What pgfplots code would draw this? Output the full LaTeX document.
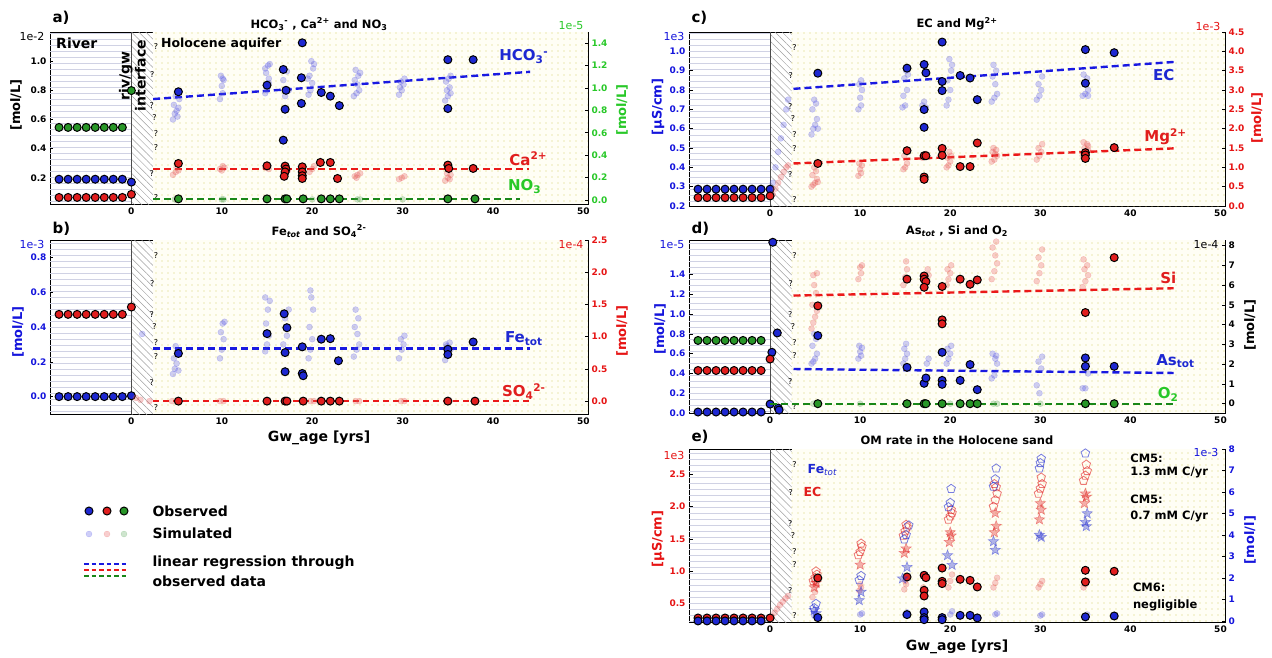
\documentclass[border=0pt]{standalone}
\usepackage{fontspec}
\setmainfont{DejaVu Sans}
\usepackage{pgfplots}
\pgfplotsset{compat=1.18}
\usetikzlibrary{patterns.meta}

\definecolor{obsB}{RGB}{30,40,210}
\definecolor{obsR}{RGB}{225,30,30}
\definecolor{obsG}{RGB}{40,150,40}
\definecolor{lnB}{RGB}{25,25,225}
\definecolor{lnR}{RGB}{235,25,25}
\definecolor{lnG}{RGB}{25,135,25}
\definecolor{tkB}{RGB}{20,20,220}
\definecolor{tkR}{RGB}{230,20,20}
\definecolor{tkG}{RGB}{40,200,40}
\definecolor{simB}{RGB}{80,80,230}
\definecolor{simR}{RGB}{230,80,80}
\definecolor{simG}{RGB}{80,160,80}
\definecolor{rivc}{RGB}{208,210,228}
\definecolor{hatc}{RGB}{160,160,160}
\definecolor{dotc}{RGB}{215,210,105}

\pgfdeclareplotmark{fstar}{%
  \pgfpathmoveto{\pgfqpointpolar{90}{\pgfplotmarksize}}%
  \pgfpathlineto{\pgfqpointpolar{126}{0.42\pgfplotmarksize}}%
  \pgfpathlineto{\pgfqpointpolar{162}{\pgfplotmarksize}}%
  \pgfpathlineto{\pgfqpointpolar{198}{0.42\pgfplotmarksize}}%
  \pgfpathlineto{\pgfqpointpolar{234}{\pgfplotmarksize}}%
  \pgfpathlineto{\pgfqpointpolar{270}{0.42\pgfplotmarksize}}%
  \pgfpathlineto{\pgfqpointpolar{306}{\pgfplotmarksize}}%
  \pgfpathlineto{\pgfqpointpolar{342}{0.42\pgfplotmarksize}}%
  \pgfpathlineto{\pgfqpointpolar{18}{\pgfplotmarksize}}%
  \pgfpathlineto{\pgfqpointpolar{54}{0.42\pgfplotmarksize}}%
  \pgfpathclose
  \pgfusepathqfillstroke
}

\pgfplotsset{
  base/.style={scale only axis, anchor=north west, xmin=-9, xmax=50.5,
    scaled ticks=false, tick align=inside, major tick length=3.5pt,
    tick style={black,line width=0.6pt},
    tick label style={font=\fontsize{9}{10}\selectfont\bfseries},
    /pgf/number format/assume math mode=true,
    y tick label style={/pgf/number format/fixed,/pgf/number format/fixed zerofill,/pgf/number format/precision=1},
    axis line style={line width=0.7pt}},
  L/.style={base, xtick={0,10,20,30,40,50}, ytick pos=left},
  R/.style={base, axis x line=none, axis y line*=right},
  sim/.style={only marks, mark=*, mark size=3pt, mark options={fill=#1, draw=#1, fill opacity=0.28, draw opacity=0.28}},
  obs/.style={only marks, mark=*, mark size=4pt, mark options={fill=#1, draw=black, line width=1pt}},
  reg/.style={#1, line width=2.4pt, dash pattern=on 7pt off 4pt},
  pent/.style={only marks, mark=pentagon, mark size=4.5pt, mark options={draw=#1, fill=#1!15, line width=0.8pt, draw opacity=0.6, fill opacity=0.3}},
  stars/.style={only marks, mark=fstar, mark size=5.5pt, mark options={draw=#1, fill=#1, line width=0.5pt, draw opacity=0.45, fill opacity=0.35}},
}

\newcommand{\bg}[2]{%
 \fill[pattern={Lines[angle=0,distance=6pt,line width=0.5pt]},pattern color=rivc] (axis cs:-9,#1) rectangle (axis cs:0,#2);
 \fill[pattern={Lines[angle=-45,distance=5pt,line width=0.5pt]},pattern color=hatc] (axis cs:0,#1) rectangle (axis cs:2.4,#2);
 \fill[yellow!4] (axis cs:2.4,#1) rectangle (axis cs:50.5,#2);
 \fill[pattern={Dots[distance=6pt,radius=0.65pt]},pattern color=dotc] (axis cs:2.4,#1) rectangle (axis cs:50.5,#2);
 \draw[black!70,line width=0.6pt] (axis cs:0,#1) -- (axis cs:0,#2);
}
\newcommand{\qm}{%
 \node[font=\fontsize{8}{9}\selectfont] at (rel axis cs:0.197,0.913) {?};
 \node[font=\fontsize{8}{9}\selectfont] at (rel axis cs:0.190,0.75) {?};
 \node[font=\fontsize{8}{9}\selectfont] at (rel axis cs:0.189,0.57) {?};
 \node[font=\fontsize{8}{9}\selectfont] at (rel axis cs:0.194,0.50) {?};
 \node[font=\fontsize{8}{9}\selectfont] at (rel axis cs:0.197,0.41) {?};
 \node[font=\fontsize{8}{9}\selectfont] at (rel axis cs:0.197,0.33) {?};
 \node[font=\fontsize{8}{9}\selectfont] at (rel axis cs:0.189,0.18) {?};
 \node[font=\fontsize{8}{9}\selectfont] at (rel axis cs:0.197,0.04) {?};
}
\newcommand{\lab}{\fontsize{15}{16}\selectfont\bfseries}

\begin{document}
\begin{tikzpicture}
\path[use as bounding box] (0,0) rectangle (1272pt,-657pt);

% ================= panel a =================
\begin{axis}[L, at={(50pt,-32pt)}, width=538pt, height=172pt, ymin=0.02, ymax=1.2,
  ytick={0.2,0.4,0.6,0.8,1.0}]
\bg{0.02}{1.2}
\addplot[sim=simB] coordinates {(4.6,0.60)(4.8,0.64)(5.0,0.66)(4.7,0.70)(5.2,0.68)(4.9,0.76)(5.3,0.74)(5.1,0.62)
 (9.8,0.74)(10.1,0.78)(10,0.83)(10.2,0.87)(9.9,0.9)(10.1,0.88)
 (14.8,0.78)(15,0.8)(15.2,0.85)(14.9,0.92)(15.1,0.97)(15.3,0.98)(14.8,0.95)(15.2,0.88)
 (16.8,0.87)(17.2,0.93)(17,0.76)(17.4,0.8)
 (19.6,0.77)(19.8,0.8)(20,0.85)(19.7,0.9)(20.1,0.95)(19.9,1.0)(20.2,0.98)(19.5,0.88)
 (24.6,0.76)(24.9,0.78)(25.2,0.8)(25,0.84)(24.7,0.87)(25.1,0.9)(24.8,0.94)(25.3,0.92)
 (29.6,0.77)(29.9,0.8)(30.1,0.84)(29.8,0.86)(30.2,0.88)(29.7,0.82)
 (34.7,0.73)(35,0.76)(35.3,0.78)(34.9,0.8)(35.2,0.82)(34.8,0.86)(35.1,0.88)(35.3,0.9)};
\addplot[sim=simR] coordinates {(4.6,0.22)(4.9,0.24)(5.2,0.25)(5,0.27)(9.8,0.26)(10.1,0.28)(10.3,0.27)(10,0.25)
 (14.8,0.27)(15.2,0.26)(15,0.29)(17,0.27)(17.3,0.25)(19.7,0.24)(20,0.26)(20.2,0.28)
 (24.7,0.21)(25,0.22)(25.3,0.23)(24.9,0.2)(29.6,0.19)(29.9,0.2)(30.2,0.21)
 (34.7,0.18)(35,0.2)(35.3,0.22)(34.9,0.23)(35.2,0.19)};
\addplot[reg=lnB] coordinates {(2.4,0.74)(44.1,0.927)};
\addplot[reg=lnR] coordinates {(2.4,0.26)(44,0.26)};
\addplot[obs=obsB] coordinates {(-8,0.19)(-7,0.19)(-6,0.19)(-5,0.19)(-4,0.19)(-3,0.19)(-2,0.19)(-1,0.19)(0,0.17)
 (5.2,0.79)(15,0.835)(16.8,0.943)(17.1,0.80)(17,0.67)(16.8,0.458)(18.9,1.126)(18.8,0.886)(18.8,0.71)
 (21,0.785)(22,0.76)(23,0.695)(35,1.01)(35,0.675)(37.8,1.01)};
\addplot[obs=obsR] coordinates {(-8,0.065)(-7,0.065)(-6,0.065)(-5,0.065)(-4,0.065)(-3,0.065)(-2,0.065)(-1,0.065)(0,0.086)
 (5.2,0.298)(15,0.282)(17,0.28)(17.1,0.26)(17,0.24)(16.9,0.21)(18.9,0.275)(18.9,0.24)(18.9,0.214)(18.9,0.195)
 (20.9,0.305)(22,0.305)(22.8,0.195)(35,0.287)(35.1,0.264)(37.8,0.264)};
\qm
\node[anchor=west,font=\fontsize{14}{15}\selectfont\bfseries] at (axis cs:-8.7,1.12) {River};
\node[anchor=west,font=\fontsize{12.5}{14}\selectfont\bfseries] at (axis cs:2.9,1.12) {Holocene aquifer};
\node[rotate=90,align=center,font=\fontsize{14}{16}\selectfont\bfseries] at (axis cs:0.1,0.9) {riv/gw\\interface};
\node[text=obsB,font=\lab] at (axis cs:43.4,1.03) {HCO\textsubscript{3}\textsuperscript{-}};
\node[text=obsR,font=\lab] at (axis cs:43.9,0.33) {Ca\textsuperscript{2+}};
\node[text=tkG,font=\lab] at (axis cs:43.5,0.14) {NO\textsubscript{3}};
\end{axis}
\begin{axis}[R, at={(50pt,-32pt)}, width=538pt, height=172pt, ymin=-0.036, ymax=1.5,
  ytick={0,0.2,0.4,0.6,0.8,1.0,1.2,1.4}, y tick label style={text=tkG}]
\addplot[sim=simG] coordinates {(4.8,0.005)(5.2,0.005)(10,0.005)(10.2,0.005)(15,0.005)(17,0.005)(20,0.005)(25,0.005)(25.3,0.005)(30,0.005)(35,0.005)};
\addplot[reg=lnG] coordinates {(2.4,0.01)(43,0.01)};
\addplot[obs=obsG] coordinates {(-8,0.648)(-7,0.648)(-6,0.648)(-5,0.648)(-4,0.648)(-3,0.648)(-2,0.648)(-1,0.648)(0,0.977)
 (5.2,0.01)(15,0.01)(17,0.01)(17.2,0.01)(19,0.01)(21,0.01)(22,0.01)(23,0.01)(35,0.01)(38,0.01)};
\end{axis}

% ================= panel b =================
\begin{axis}[L, at={(50pt,-240pt)}, width=538pt, height=174pt, ymin=-0.1, ymax=0.9,
  ytick={0,0.2,0.4,0.6,0.8}, y tick label style={text=tkB}]
\bg{-0.1}{0.9}
\addplot[sim=simB] coordinates {(1.2,0.36)(4.6,0.13)(4.8,0.16)(5,0.19)(4.7,0.22)(5.1,0.26)(4.9,0.29)(5.2,0.15)
 (9.8,0.22)(10,0.27)(10.2,0.33)(9.9,0.37)(10.1,0.42)(10.3,0.43)
 (14.8,0.26)(15,0.3)(15.2,0.35)(14.9,0.42)(15.1,0.5)(15.3,0.55)(14.8,0.57)
 (16.8,0.3)(17.2,0.35)(17,0.45)(17.4,0.5)
 (19.6,0.22)(19.8,0.27)(20,0.33)(19.7,0.4)(20.1,0.5)(19.9,0.57)(19.8,0.61)
 (24.6,0.23)(24.9,0.27)(25.2,0.3)(25,0.36)(24.7,0.4)(25.1,0.45)(24.8,0.5)
 (29.6,0.22)(29.9,0.27)(30.1,0.3)(29.8,0.33)(30.2,0.35)
 (34.7,0.21)(35,0.24)(35.3,0.27)(34.9,0.29)(35.2,0.31)(34.8,0.3)};
\addplot[reg=lnB] coordinates {(2.4,0.276)(44.1,0.276)};
\addplot[obs=obsB] coordinates {(-8,0)(-7,0)(-6,0)(-5,0)(-4,0)(-3,0)(-2,0)(-1,0)(0,0.005)
 (5.2,0.248)(15,0.362)(16.9,0.476)(17.2,0.396)(17,0.253)(17,0.143)(18.9,0.286)(18.9,0.133)(19,0.12)
 (21,0.33)(22,0.333)(22.9,0.206)(35,0.272)(35,0.242)(37.8,0.314)};
\qm
\node[text=obsB,font=\lab] at (axis cs:43.4,0.333) {Fe\textsubscript{tot}};
\node[text=obsR,font=\lab] at (axis cs:43.4,0.029) {SO\textsubscript{4}\textsuperscript{2-}};
\end{axis}
\begin{axis}[R, at={(50pt,-240pt)}, width=538pt, height=174pt, ymin=-0.2, ymax=2.5,
  ytick={0,0.5,1.0,1.5,2.0,2.5}, y tick label style={text=tkR}]
\addplot[sim=simR] coordinates {(0.5,0.05)(1,0.02)(2,0)(4.5,0)(5,0)(9.8,0)(10.2,0)(15,0)(17,0)(19.8,0)(20.2,0)(24.8,0)(25.2,0)(29.8,0)(30.2,0)(34.8,0)(35.2,0)};
\addplot[lnR, line width=1.5pt, dash pattern=on 6pt off 4pt] coordinates {(2.4,0)(44.1,0)};
\addplot[obs=obsR] coordinates {(-8,1.346)(-7,1.346)(-6,1.346)(-5,1.346)(-4,1.346)(-3,1.346)(-2,1.346)(-1,1.346)(0,1.46)
 (5.2,0)(15,0)(17,0)(17.2,0)(19,0)(21,0)(22,0)(23,0)(35,0)(38,0)};
\end{axis}

% ================= panel c =================
\begin{axis}[L, at={(689pt,-32pt)}, width=536pt, height=174pt, ymin=0.2, ymax=1.1,
  ytick={0.2,0.3,0.4,0.5,0.6,0.7,0.8,0.9,1.0}, y tick label style={text=tkB}]
\bg{0.2}{1.1}
\addplot[sim=simB] coordinates {(0.3,0.32)(0.6,0.4)(0.9,0.48)(1.2,0.55)(1.5,0.62)(1.8,0.7)(2.0,0.75)
 (4.6,0.57)(4.8,0.6)(5,0.62)(5.2,0.65)(4.7,0.7)(5.1,0.73)(4.9,0.75)(5.3,0.6)
 (9.8,0.7)(10.1,0.72)(10,0.76)(10.2,0.8)(9.9,0.83)(10.1,0.85)
 (14.7,0.71)(15,0.72)(15.2,0.8)(14.9,0.86)(15.1,0.9)(15.3,0.88)(14.8,0.77)
 (16.9,0.72)(17.1,0.74)(17.3,0.71)
 (19.6,0.72)(19.8,0.75)(20,0.8)(19.7,0.85)(20.1,0.9)(19.9,0.96)(20.2,0.93)
 (24.6,0.74)(24.9,0.76)(25.2,0.78)(25,0.83)(24.7,0.87)(25.1,0.9)(24.8,0.93)
 (29.6,0.75)(29.9,0.77)(30.1,0.8)(29.8,0.83)(30.2,0.87)
 (34.7,0.77)(35,0.78)(35.3,0.8)(34.9,0.83)(35.2,0.86)(34.8,0.88)(35.3,0.77)};
\addplot[reg=lnB] coordinates {(2.6,0.806)(44.8,0.945)};
\addplot[obs=obsB] coordinates {(-8,0.287)(-7,0.287)(-6,0.287)(-5,0.287)(-4,0.287)(-3,0.287)(-2,0.287)(-1,0.287)(0,0.287)
 (5.3,0.887)(15.2,0.913)(17.1,0.932)(17.3,0.889)(17.1,0.699)(17.1,0.607)(19.1,1.048)(19.1,0.844)(19.1,0.797)
 (21.1,0.875)(22.2,0.862)(23,0.75)(35,1.009)(35,0.835)(38.2,0.993)};
\qm
\node[text=obsB,font=\lab] at (axis cs:43.7,0.875) {EC};
\end{axis}
\begin{axis}[R, at={(689pt,-32pt)}, width=536pt, height=174pt, ymin=0, ymax=4.5,
  ytick={0,0.5,1.0,1.5,2.0,2.5,3.0,3.5,4.0,4.5}, y tick label style={text=tkR}]
\addplot[sim=simR] coordinates {(0.3,0.3)(0.6,0.45)(0.9,0.6)(1.2,0.75)(1.5,0.88)(1.8,1.0)(2.0,1.05)
 (4.6,0.5)(4.8,0.55)(5,0.6)(5.2,0.7)(4.7,0.8)(5.1,0.9)(4.9,1.0)(5.3,0.62)
 (9.8,0.78)(10.1,0.85)(10,0.95)(10.2,1.05)(9.9,1.1)
 (14.8,0.95)(15,1.0)(15.2,1.1)(14.9,1.3)(15.1,1.45)
 (16.9,1.25)(17.1,1.3)(17.3,1.35)
 (19.6,1.0)(19.8,1.05)(20,1.15)(19.7,1.25)(20.1,1.3)(19.9,1.4)
 (24.6,1.15)(24.9,1.2)(25.2,1.3)(25,1.35)(24.7,1.4)(25.1,1.45)(24.8,1.5)
 (29.6,1.2)(29.9,1.3)(30.1,1.4)(29.8,1.5)(30.2,1.6)
 (34.7,1.3)(35,1.35)(35.3,1.45)(34.9,1.5)(35.2,1.6)(34.8,1.65)(35.3,1.55)};
\addplot[reg=lnR] coordinates {(2.6,1.10)(44.8,1.49)};
\addplot[obs=obsR] coordinates {(-8,0.216)(-7,0.216)(-6,0.216)(-5,0.216)(-4,0.216)(-3,0.216)(-2,0.216)(-1,0.216)(0,0.26)
 (5.3,1.10)(15.2,1.43)(17.1,1.30)(17.3,1.30)(17.1,0.75)(17.1,0.69)(19.1,1.49)(19.1,1.31)
 (21.1,1.02)(22.2,1.02)(23,1.63)(35,1.38)(35,1.32)(35,1.23)(38.2,1.51)};
\node[text=obsR,font=\lab] at (axis cs:43.9,1.8) {Mg\textsuperscript{2+}};
\end{axis}

% ================= panel d =================
\begin{axis}[L, at={(689pt,-240pt)}, width=536pt, height=173pt, ymin=0, ymax=1.75,
  ytick={0,0.2,0.4,0.6,0.8,1.0,1.2,1.4}, y tick label style={text=tkB}]
\bg{0}{1.75}
\addplot[sim=simB] coordinates {(4.6,0.5)(4.8,0.52)(5,0.55)(5.2,0.6)(4.7,0.68)(5.1,0.75)(4.9,0.8)
 (9.8,0.55)(10.1,0.58)(10,0.62)(10.2,0.66)(9.9,0.68)
 (14.8,0.5)(15,0.55)(15.2,0.6)(14.9,0.65)(15.1,0.7)
 (17.4,0.5)(17.6,0.55)
 (19.6,0.5)(19.8,0.55)(20,0.6)(19.7,0.65)(20.1,0.68)
 (24.6,0.35)(24.9,0.38)(25.2,0.5)(25,0.55)(24.7,0.6)(25.1,0.58)
 (29.6,0.28)(29.9,0.2)(30.1,0.45)(29.8,0.52)(30.2,0.57)
 (34.7,0.25)(35,0.25)(35.3,0.4)(34.9,0.45)(35.2,0.5)};
\addplot[reg=lnB] coordinates {(2.6,0.445)(44.8,0.405)};
\addplot[obs=obsB] coordinates {(-8,0.01)(-7,0.01)(-6,0.01)(-5,0.01)(-4,0.01)(-3,0.01)(-2,0.01)(-1,0.01)
 (0,0.09)(0.2,0.614)(0.3,1.727)(0.8,0.81)(0.9,0.05)(1.0,0.03)
 (5.3,0.783)(15.2,0.462)(17.1,0.30)(17.3,0.354)(19.1,0.614)(19.1,0.33)(19.1,0.29)
 (21.1,0.33)(22.2,0.49)(23,0.236)(35,0.557)(35,0.472)(38.2,0.472)};
\qm
\node[text=obsR,font=\lab] at (axis cs:44.2,1.366) {Si};
\node[text=obsB,font=\lab] at (axis cs:45,0.523) {As\textsubscript{tot}};
\node[text=tkG,font=\lab] at (axis cs:44.2,0.186) {O\textsubscript{2}};
\end{axis}
\begin{axis}[R, at={(689pt,-240pt)}, width=536pt, height=173pt, ymin=-0.47, ymax=8.28,
  ytick={0,1,2,3,4,5,6,7,8}, y tick label style={text=black,/pgf/number format/precision=0}]
\addplot[sim=simR] coordinates {(4.6,3.8)(4.8,4.1)(5,4.4)(5.2,4.7)(4.7,5.0)(5.1,5.6)(4.9,6.0)(4.8,6.5)(5.2,6.6)
 (9.8,6.3)(10.1,6.6)(10,6.9)(10.2,7.0)
 (14.8,6.0)(15,6.4)(15.2,6.8)(15.1,7.2)
 (17.4,6.2)(17.6,6.5)(17.5,6.8)
 (19.6,6.0)(19.8,6.3)(20,6.6)(19.7,6.8)(20.1,7.0)
 (24.6,6.3)(24.9,6.7)(25.2,7.1)(25,7.5)(24.7,7.9)(25.1,8.2)
 (29.6,6.2)(29.9,6.6)(30.1,7.0)(29.8,7.4)(30.2,7.8)
 (34.7,5.9)(35,6.2)(35.3,6.5)(34.9,6.8)(35.2,7.0)(34.8,7.3)};
\addplot[sim=simG] coordinates {(4.8,0)(5.2,0)(10,0)(15,0)(17.5,0)(20,0)(24.8,0)(25.2,0)(30,0)(35,0)};
\addplot[reg=lnR] coordinates {(2.6,5.47)(44.8,5.84)};
\addplot[reg=lnG] coordinates {(0,0)(44.8,0)};
\addplot[obs=obsR] coordinates {(-8,1.68)(-7,1.68)(-6,1.68)(-5,1.68)(-4,1.68)(-3,1.68)(-2,1.68)(-1,1.68)(0,2.26)
 (5.3,4.95)(15.2,6.30)(17.1,6.46)(17.1,6.30)(17.3,6.18)(17.1,5.89)(19.1,5.93)(19.1,4.24)(19.1,4.04)
 (21.1,6.30)(22.2,6.04)(23,6.26)(35,4.61)(38.2,7.39)};
\addplot[obs=obsG] coordinates {(-8,3.2)(-7,3.2)(-6,3.2)(-5,3.2)(-4,3.2)(-3,3.2)(-2,3.2)(-1,3.2)
 (5.3,0)(15.2,0)(17.1,0)(17.3,0)(19.1,0)(21.1,0)(22.2,0)(23,0)(35,0)(38.2,0)};
\end{axis}

% ================= panel e =================
\begin{axis}[L, at={(689pt,-449pt)}, width=536pt, height=173pt, ymin=0.216, ymax=2.89,
  ytick={0.5,1.0,1.5,2.0,2.5}, y tick label style={text=tkR}]
\bg{0.216}{2.89}
\addplot[sim=simR] coordinates {(0.2,0.3)(0.5,0.36)(0.8,0.42)(1.1,0.48)(1.4,0.53)(1.7,0.58)(2.0,0.62)
 (4.7,0.6)(5,0.68)(5.2,0.78)(4.9,0.85)(9.9,0.7)(10.1,0.75)(10,0.8)(14.9,0.72)(15.1,0.8)(15,0.85)(17,0.75)
 (19.8,0.75)(20,0.85)(20.2,0.95)(24.8,0.75)(25,0.82)(25.2,0.9)(29.8,0.75)(30,0.8)(30.2,0.85)(34.8,0.75)(35,0.8)(35.2,0.85)};
\addplot[pent=obsR] coordinates {(4.8,0.85)(5,0.9)(5.2,0.95)(5.1,1.0)(9.8,1.25)(10,1.3)(10.2,1.38)(10.1,1.43)
 (14.8,1.55)(15,1.62)(15.2,1.68)(15.1,1.72)(19.8,1.8)(20,1.85)(20.2,1.9)(20.1,1.95)
 (24.8,2.0)(25,2.1)(25.2,2.2)(25.1,2.3)(24.9,2.35)(29.8,2.2)(30,2.28)(30.2,2.35)(30.1,2.45)
 (34.8,2.4)(35,2.48)(35.2,2.55)(35.1,2.65)};
\addplot[stars=obsR] coordinates {(4.9,0.75)(5.1,0.82)(10,1.1)(14.9,1.28)(15.1,1.35)(19.9,1.45)(20.1,1.55)(20,1.6)
 (24.9,1.6)(25.1,1.7)(25,1.9)(29.9,1.8)(30.1,1.95)(30,2.05)(34.9,2.05)(35.1,2.15)(35,2.2)};
\addplot[obs=obsR] coordinates {(-8,0.278)(-7,0.278)(-6,0.278)(-5,0.278)(-4,0.278)(-3,0.278)(-2,0.278)(-1,0.278)(0,0.278)
 (5.3,0.897)(15.2,0.912)(17.1,0.938)(17.3,0.902)(17.1,0.706)(17.1,0.618)(19.1,1.05)(19.1,0.845)(19.1,0.81)
 (21.1,0.876)(22.2,0.86)(23,0.758)(35,1.015)(35,0.835)(38.2,1.0)};
\qm
\node[text=obsB,font=\fontsize{12.5}{14}\selectfont] at (axis cs:5.8,2.56) {\bfseries Fe\textsubscript{\mdseries\itshape tot}};
\node[text=obsR,font=\fontsize{12.5}{14}\selectfont\bfseries] at (axis cs:4.7,2.23) {EC};
\node[anchor=west,font=\fontsize{11.5}{13}\selectfont\bfseries] at (axis cs:39.6,2.74) {CM5:};
\node[anchor=west,font=\fontsize{11.5}{13}\selectfont\bfseries] at (axis cs:39.6,2.52) {1.3 mM C/yr};
\node[anchor=west,font=\fontsize{11.5}{13}\selectfont\bfseries] at (axis cs:39.6,2.12) {CM5:};
\node[anchor=west,font=\fontsize{11.5}{13}\selectfont\bfseries] at (axis cs:39.6,1.84) {0.7 mM C/yr};
\node[anchor=west,font=\fontsize{11.5}{13}\selectfont\bfseries] at (axis cs:39.9,0.758) {CM6:};
\node[anchor=west,font=\fontsize{11.5}{13}\selectfont\bfseries] at (axis cs:39.9,0.474) {negligible};
\end{axis}
\begin{axis}[R, at={(689pt,-449pt)}, width=536pt, height=173pt, ymin=-0.05, ymax=8.0,
  ytick={0,1,2,3,4,5,6,7,8}, y tick label style={text=tkB,/pgf/number format/precision=0}]
\addplot[sim=simB] coordinates {(4.9,0.25)(5.1,0.3)(10,0.3)(10.2,0.35)(15,0.3)(15.2,0.4)(17,0.35)(20,0.3)(20.2,0.45)(25,0.3)(25.2,0.35)(30,0.25)(30.2,0.3)(35,0.25)(35.2,0.3)};
\addplot[pent=obsB] coordinates {(4.9,0.6)(5.1,0.8)(9.9,1.9)(10.1,2.1)(14.9,3.8)(15.1,4.0)(15.4,4.45)
 (19.8,5.3)(20,5.5)(20.1,6.15)(24.8,6.25)(25,6.6)(25.1,7.1)(29.9,7.1)(30.1,7.55)(30,7.35)(35,7.8)};
\addplot[stars=obsB] coordinates {(4.9,0.5)(5.1,0.35)(9.9,0.96)(10.1,1.35)(14.7,1.97)(15.2,2.5)(19.7,3.05)(20.2,2.6)
 (24.8,3.7)(25,3.3)(29.9,4.0)(30.1,3.9)(35,4.6)(35.2,5.0)(35.1,4.4)};
\addplot[obs=obsB] coordinates {(-8,0)(-7,0)(-6,0)(-5,0)(-4,0)(-3,0)(-2,0)(-1,0)
 (5.3,0.155)(15.2,0.295)(17.1,0.42)(17.1,0.155)(17.1,0.06)(19.1,0.155)(19.1,0.06)(21.1,0.26)(22.2,0.26)(23,0.14)(35,0.19)(38.2,0.23)};
\end{axis}

% ================= legend =================
\begin{axis}[scale only axis, anchor=north west, at={(60pt,-490pt)}, width=100pt, height=110pt,
  xmin=60, xmax=160, ymin=-600, ymax=-490, hide axis, clip=false]
\addplot[obs=obsB] coordinates {(89,-511)};
\addplot[obs=obsR] coordinates {(107,-511)};
\addplot[obs=obsG] coordinates {(124,-511)};
\addplot[sim=simB] coordinates {(89,-534)};
\addplot[sim=simR] coordinates {(107,-534)};
\addplot[sim=simG] coordinates {(124,-534)};
\addplot[lnB, line width=2pt, dash pattern=on 4.5pt off 3pt] coordinates {(84,-564)(129,-564)};
\addplot[lnR, line width=2pt, dash pattern=on 4.5pt off 3pt] coordinates {(84,-570)(129,-570)};
\addplot[lnG, line width=2pt, dash pattern=on 4.5pt off 3pt] coordinates {(84,-576)(129,-576)};
\end{axis}
\node[anchor=west,font=\fontsize{14}{16}\selectfont\bfseries] at (149pt,-511pt) {Observed};
\node[anchor=west,font=\fontsize{14}{16}\selectfont\bfseries] at (149pt,-533pt) {Simulated};
\node[anchor=west,font=\fontsize{14}{16}\selectfont\bfseries] at (149pt,-563pt) {linear regression through};
\node[anchor=west,font=\fontsize{14}{16}\selectfont\bfseries] at (149pt,-581pt) {observed data};

% ================= titles, labels, multipliers =================
\def\tit{\fontsize{11.5}{13}\selectfont\bfseries}
\def\plab{\fontsize{15}{16}\selectfont\bfseries}
\def\ylab{\fontsize{13}{14}\selectfont\bfseries}
\def\mul{\fontsize{11}{12}\selectfont}
\node[anchor=west,font=\plab] at (49pt,-18pt) {a)};
\node[anchor=west,font=\plab] at (49pt,-229pt) {b)};
\node[anchor=west,font=\plab] at (688pt,-18pt) {c)};
\node[anchor=west,font=\plab] at (688pt,-229pt) {d)};
\node[anchor=west,font=\plab] at (688pt,-437pt) {e)};
\node[font=\tit] at (319pt,-24pt) {HCO\textsubscript{3}\textsuperscript{-} , Ca\textsuperscript{2+} and NO\textsubscript{3}};
\node[font=\tit] at (319pt,-231pt) {Fe\textsubscript{\itshape tot} and SO\textsubscript{4}\textsuperscript{2-}};
\node[font=\tit] at (957pt,-24pt) {EC and Mg\textsuperscript{2+}};
\node[font=\tit] at (957pt,-231pt) {As\textsubscript{\itshape tot} , Si and O\textsubscript{2}};
\node[font=\tit] at (957pt,-440pt) {OM rate in the Holocene sand};
\node[font=\fontsize{14}{15}\selectfont\bfseries] at (319pt,-438pt) {Gw\_age [yrs]};
\node[font=\fontsize{14}{15}\selectfont\bfseries] at (957pt,-647pt) {Gw\_age [yrs]};
% y labels
\node[rotate=90,font=\ylab] at (16pt,-105pt) {[mol/L]};
\node[rotate=90,font=\ylab,text=tkG] at (622pt,-110pt) {[mol/L]};
\node[rotate=90,font=\ylab,text=tkB] at (18pt,-332pt) {[mol/L]};
\node[rotate=90,font=\ylab,text=tkR] at (622pt,-331pt) {[mol/L]};
\node[rotate=90,font=\ylab,text=tkB] at (658pt,-107pt) {[µS/cm]};
\node[rotate=90,font=\ylab,text=tkR] at (1257pt,-118pt) {[mol/L]};
\node[rotate=90,font=\ylab,text=tkB] at (660pt,-329pt) {[mol/L]};
\node[rotate=90,font=\ylab] at (1250pt,-325pt) {[mol/L]};
\node[rotate=90,font=\ylab,text=tkR] at (658pt,-539pt) {[µS/cm]};
\node[rotate=90,font=\ylab,text=tkB] at (1250pt,-540pt) {[mol/l]};
% multipliers
\node[anchor=east,font=\mul] at (48pt,-36pt) {1e-2};
\node[anchor=east,font=\mul,text=tkG] at (587pt,-26pt) {1e-5};
\node[anchor=east,font=\mul,text=tkB] at (48pt,-244pt) {1e-3};
\node[anchor=east,font=\mul,text=tkR] at (587pt,-245pt) {1e-4};
\node[anchor=east,font=\mul,text=tkB] at (688pt,-36pt) {1e3};
\node[anchor=east,font=\mul,text=tkR] at (1224pt,-26pt) {1e-3};
\node[anchor=east,font=\mul,text=tkB] at (688pt,-245pt) {1e-5};
\node[anchor=east,font=\mul] at (1222pt,-245pt) {1e-4};
\node[anchor=east,font=\mul,text=tkR] at (688pt,-455pt) {1e3};
\node[anchor=east,font=\mul,text=tkB] at (1222pt,-452pt) {1e-3};
\end{tikzpicture}
\end{document}
